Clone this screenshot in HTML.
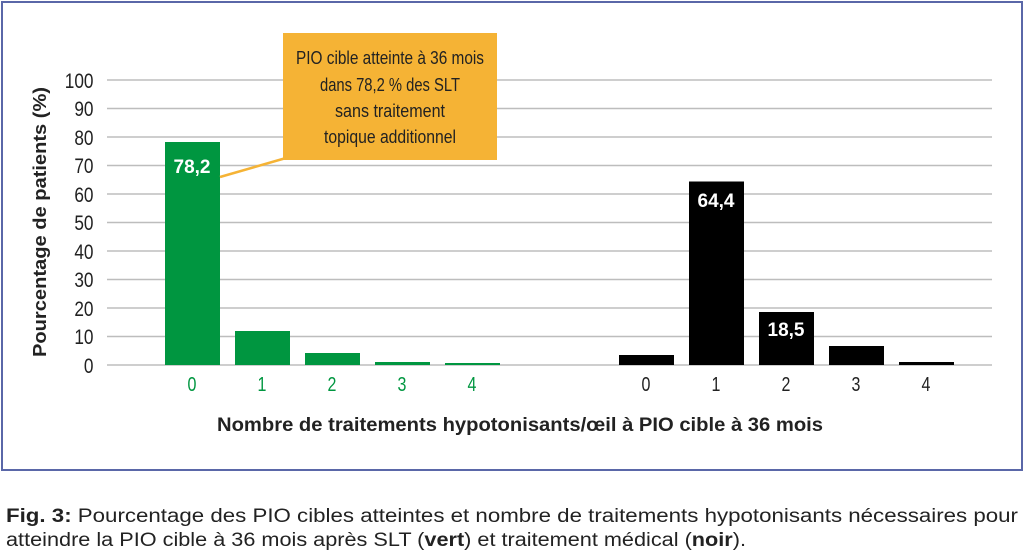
<!DOCTYPE html>
<html><head><meta charset="utf-8"><style>
body{margin:0;width:1024px;height:550px;background:#fff;font-family:"Liberation Sans",sans-serif;overflow:hidden;position:relative}
.frame{position:absolute;left:1px;top:1px;width:1018px;height:466px;border:2px solid #5a67a8}
</style></head><body>
<div class="frame"></div>
<svg width="1024" height="550" style="position:absolute;left:0;top:0" font-family="Liberation Sans, sans-serif">
<g stroke="#bdbdbd" stroke-width="1.5">
<line x1="107" x2="992" y1="80" y2="80"/><line x1="107" x2="992" y1="108.5" y2="108.5"/><line x1="107" x2="992" y1="137" y2="137"/><line x1="107" x2="992" y1="165.5" y2="165.5"/><line x1="107" x2="992" y1="194" y2="194"/><line x1="107" x2="992" y1="222.5" y2="222.5"/><line x1="107" x2="992" y1="251" y2="251"/><line x1="107" x2="992" y1="279.5" y2="279.5"/><line x1="107" x2="992" y1="308" y2="308"/><line x1="107" x2="992" y1="336.5" y2="336.5"/><line x1="107" x2="992" y1="365" y2="365"/>
</g>
<g font-size="21" fill="#222" text-anchor="end" transform="scale(0.82,1)">
<text x="114" y="88">100</text><text x="114" y="116">90</text><text x="114" y="145">80</text><text x="114" y="173">70</text><text x="114" y="202">60</text><text x="114" y="230">50</text><text x="114" y="259">40</text><text x="114" y="287">30</text><text x="114" y="316">20</text><text x="114" y="344">10</text><text x="114" y="373">0</text>
</g>
<text transform="translate(46,222) rotate(-90)" text-anchor="middle" font-size="18" font-weight="bold" fill="#222" textLength="270" lengthAdjust="spacingAndGlyphs">Pourcentage de patients (%)</text>
<g fill="#009640">
<rect x="165" y="142" width="55" height="223"/><rect x="235" y="331" width="55" height="34"/><rect x="305" y="353" width="55" height="12"/><rect x="375" y="362" width="55" height="3"/><rect x="445" y="363" width="55" height="2"/>
</g>
<g fill="#000">
<rect x="619" y="355" width="55" height="10"/><rect x="689" y="181.5" width="55" height="183.5"/><rect x="759" y="312" width="55" height="53"/><rect x="829" y="346" width="55" height="19"/><rect x="899" y="362" width="55" height="3"/>
</g>
<g font-size="19" font-weight="bold" fill="#fff" text-anchor="middle">
<text x="192" y="173">78,2</text><text x="716" y="207">64,4</text><text x="786" y="336">18,5</text>
</g>
<g font-size="20" text-anchor="middle" transform="scale(0.8,1)">
<g fill="#009640"><text x="240" y="391">0</text><text x="327.5" y="391">1</text><text x="415" y="391">2</text><text x="502.5" y="391">3</text><text x="590" y="391">4</text></g>
<g fill="#222"><text x="807.5" y="391">0</text><text x="895" y="391">1</text><text x="982.5" y="391">2</text><text x="1070" y="391">3</text><text x="1157.5" y="391">4</text></g>
</g>
<text x="520" y="431" text-anchor="middle" font-size="19" font-weight="bold" fill="#222" textLength="606" lengthAdjust="spacingAndGlyphs">Nombre de traitements hypotonisants/œil à PIO cible à 36 mois</text>
<line x1="220" y1="177" x2="286" y2="158" stroke="#f5b335" stroke-width="2.5"/>
<rect x="283" y="33" width="214" height="127" fill="#f5b335"/>
<g font-size="18" fill="#222" text-anchor="middle">
<text x="390" y="64" textLength="188" lengthAdjust="spacingAndGlyphs">PIO cible atteinte à 36 mois</text>
<text x="390" y="91" textLength="140" lengthAdjust="spacingAndGlyphs">dans 78,2 % des SLT</text>
<text x="390" y="117" textLength="110" lengthAdjust="spacingAndGlyphs">sans traitement</text>
<text x="390" y="143" textLength="132" lengthAdjust="spacingAndGlyphs">topique additionnel</text>
</g>
<text x="6" y="522" font-size="19" fill="#222" textLength="1012" lengthAdjust="spacingAndGlyphs"><tspan font-weight="bold">Fig. 3:</tspan> Pourcentage des PIO cibles atteintes et nombre de traitements hypotonisants nécessaires pour</text>
<text x="6" y="546" font-size="19" fill="#222" textLength="740" lengthAdjust="spacingAndGlyphs">atteindre la PIO cible à 36 mois après SLT (<tspan font-weight="bold">vert</tspan>) et traitement médical (<tspan font-weight="bold">noir</tspan>).</text>
</svg>
</body></html>
